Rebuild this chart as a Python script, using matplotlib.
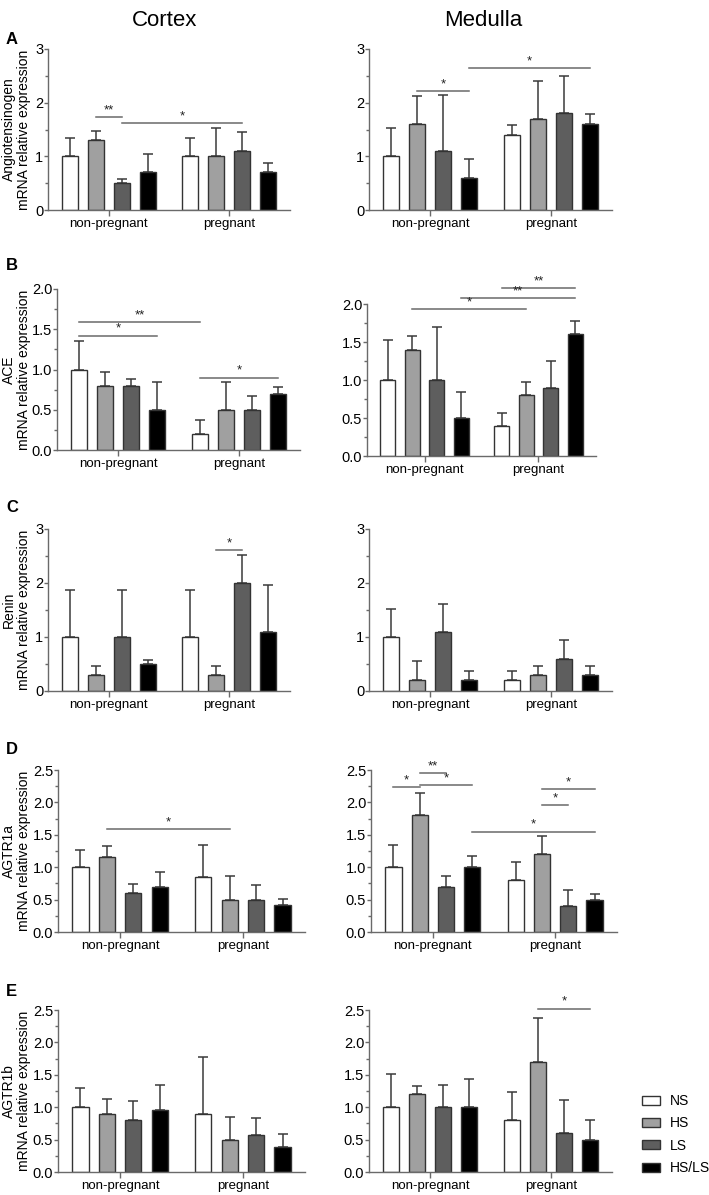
import matplotlib
matplotlib.use("Agg")
import matplotlib.pyplot as plt
from matplotlib.patches import Patch
from matplotlib.ticker import MultipleLocator, FormatStrFormatter

plt.rcParams['font.family'] = ['Liberation Sans', 'DejaVu Sans']

# categories
groups = ['non-pregnant', 'pregnant']
diets = ['NS', 'HS', 'LS', 'HS/LS']
diet_colors = ['#ffffff', '#a0a0a0', '#5e5e5e', '#000000']
genes = ['Angiotensinogen', 'ACE', 'Renin', 'AGTR1a', 'AGTR1b']
tissues = ['Cortex', 'Medulla']
letters = ['A', 'B', 'C', 'D', 'E']
y_max = [3, 2.0, 3, 2.5, 2.5]

# bar order: NS, HS, LS, HS/LS (non-pregnant), then NS, HS, LS, HS/LS (pregnant)
cortex_mean = [
    [1.0, 1.3, 0.5, 0.7, 1.0, 1.0, 1.1, 0.7],
    [1.0, 0.8, 0.8, 0.5, 0.2, 0.5, 0.5, 0.7],
    [1.0, 0.3, 1.0, 0.5, 1.0, 0.3, 2.0, 1.1],
    [1.0, 1.15, 0.6, 0.7, 0.85, 0.5, 0.49, 0.42],
    [1.0, 0.9, 0.8, 0.96, 0.9, 0.5, 0.57, 0.39],
]
cortex_err = [
    [0.35, 0.18, 0.08, 0.35, 0.35, 0.52, 0.35, 0.18],
    [0.35, 0.17, 0.08, 0.34, 0.17, 0.34, 0.17, 0.08],
    [0.87, 0.17, 0.87, 0.08, 0.87, 0.17, 0.52, 0.87],
    [0.26, 0.18, 0.14, 0.23, 0.49, 0.37, 0.23, 0.09],
    [0.30, 0.23, 0.30, 0.39, 0.87, 0.35, 0.26, 0.19],
]
medulla_mean = [
    [1.0, 1.6, 1.1, 0.6, 1.4, 1.7, 1.8, 1.6],
    [1.0, 1.4, 1.0, 0.5, 0.4, 0.8, 0.9, 1.6],
    [1.0, 0.2, 1.1, 0.2, 0.2, 0.3, 0.6, 0.3],
    [1.0, 1.8, 0.7, 1.0, 0.8, 1.2, 0.4, 0.5],
    [1.0, 1.2, 1.0, 1.0, 0.8, 1.7, 0.6, 0.5],
]
medulla_err = [
    [0.52, 0.52, 1.04, 0.35, 0.18, 0.70, 0.70, 0.18],
    [0.52, 0.18, 0.70, 0.34, 0.17, 0.17, 0.35, 0.18],
    [0.52, 0.35, 0.52, 0.17, 0.17, 0.17, 0.35, 0.17],
    [0.35, 0.35, 0.17, 0.18, 0.28, 0.28, 0.25, 0.09],
    [0.52, 0.12, 0.35, 0.44, 0.43, 0.68, 0.51, 0.31],
]

# significance brackets: (bar i, bar j, height, label)
cortex_sig = [
    [(1, 2, 1.73, '**'), (2, 6, 1.62, '*')],
    [(0, 4, 1.59, '**'), (0, 3, 1.42, '*'), (4, 7, 0.90, '*')],
    [(5, 6, 2.61, '*')],
    [(1, 5, 1.59, '*')],
    [],
]
medulla_sig = [
    [(1, 3, 2.22, '*'), (3, 7, 2.64, '*')],
    [(1, 5, 1.93, '*'), (3, 7, 2.08, '**'), (4, 7, 2.21, '**')],
    [],
    [(0, 1, 2.24, '*'), (1, 2, 2.45, '**'), (1, 3, 2.27, '*'),
     (3, 7, 1.55, '*'), (5, 6, 1.96, '*'), (5, 7, 2.20, '*')],
    [(5, 7, 2.52, '*')],
]

# axes boxes in pixels: (left, right, top, bottom)
W, H = 709, 1195
cortex_box = [(48, 290, 49, 210), (57, 300, 289, 450), (48, 290, 529, 691),
              (58, 305, 770, 932), (58, 305, 1010, 1172)]
medulla_box = [(369, 612, 49, 210), (367, 596, 304, 456), (369, 612, 529, 691),
               (371, 617, 770, 932), (369, 612, 1010, 1172)]
letter_y = [39, 265, 508, 750, 992]

GAP = 0.65
xpos = [0, 1, 2, 3, 4 + GAP, 5 + GAP, 6 + GAP, 7 + GAP]
AX_GRAY = '#6a6a6a'


def draw_panel(fig, box, means, errs, sig, ymax, ylabel=None):
    l, r, t, b = box
    ax = fig.add_axes([l / W, 1 - b / H, (r - l) / W, (b - t) / H])
    colors = diet_colors * 2
    ax.bar(xpos, means, width=0.62, color=colors, edgecolor='#333333',
           linewidth=1.0, zorder=2)
    ax.errorbar(xpos, means, yerr=[[0] * 8, errs], fmt='none',
                ecolor='#3a3a3a', elinewidth=1.1, capsize=3.5,
                capthick=1.1, zorder=1)
    for i, j, y, lab in sig:
        ax.plot([xpos[i], xpos[j]], [y, y], color=AX_GRAY, lw=1.1,
                clip_on=False)
        ax.text((xpos[i] + xpos[j]) / 2, y + ymax * 0.005, lab,
                ha='center', va='bottom', fontsize=9.5, color='#222222')

    ax.set_xlim(-0.85, 8.5)
    ax.set_ylim(0, ymax)
    for s in ['top', 'right']:
        ax.spines[s].set_visible(False)
    for s in ['left', 'bottom']:
        ax.spines[s].set_color(AX_GRAY)
        ax.spines[s].set_linewidth(1.0)
    if ymax == 3:
        ax.yaxis.set_major_locator(MultipleLocator(1))
        ax.yaxis.set_minor_locator(MultipleLocator(0.5))
        ax.yaxis.set_major_formatter(FormatStrFormatter('%d'))
    else:
        ax.yaxis.set_major_locator(MultipleLocator(0.5))
        ax.yaxis.set_minor_locator(MultipleLocator(0.25))
        ax.yaxis.set_major_formatter(FormatStrFormatter('%.1f'))
    ax.set_xticks([(xpos[0] + xpos[3]) / 2, (xpos[4] + xpos[7]) / 2])
    ax.set_xticklabels(groups, fontsize=9.5)
    ax.tick_params(axis='both', which='both', color=AX_GRAY, width=1.0)
    ax.tick_params(axis='y', which='major', length=3, labelsize=10.5, pad=0.5)
    ax.tick_params(axis='y', which='minor', length=2)
    ax.tick_params(axis='x', length=4, pad=2)
    if ylabel:
        ax.set_ylabel(ylabel + '\nmRNA relative expression', fontsize=10,
                      linespacing=1.1)
        ax.yaxis.set_label_coords(31 / W, 1 - (t + b) / 2 / H,
                                  transform=fig.transFigure)
    return ax


def main():
    fig = plt.figure(figsize=(W / 100, H / 100), dpi=100)
    fig.text(165 / W, 1 - 20 / H, tissues[0], ha='center', va='center',
             fontsize=16)
    fig.text(483 / W, 1 - 20 / H, tissues[1], ha='center', va='center',
             fontsize=16)
    for k in range(5):
        draw_panel(fig, cortex_box[k], cortex_mean[k], cortex_err[k],
                   cortex_sig[k], y_max[k], ylabel=genes[k])
        draw_panel(fig, medulla_box[k], medulla_mean[k], medulla_err[k],
                   medulla_sig[k], y_max[k])
        fig.text(6 / W, 1 - letter_y[k] / H, letters[k], ha='left',
                 va='center', fontsize=12, fontweight='bold')

    handles = [Patch(facecolor=c, edgecolor='#333333', linewidth=1.0)
               for c in diet_colors]
    fig.legend(handles, diets, loc='upper left',
               bbox_to_anchor=(642 / W, 1 - 1094 / H), frameon=False,
               fontsize=10, handlelength=1.3, handleheight=0.6,
               handletextpad=0.7, labelspacing=0.6, borderpad=0,
               borderaxespad=0)
    fig.savefig('out.png', dpi=100)


if __name__ == "__main__":
    main()
